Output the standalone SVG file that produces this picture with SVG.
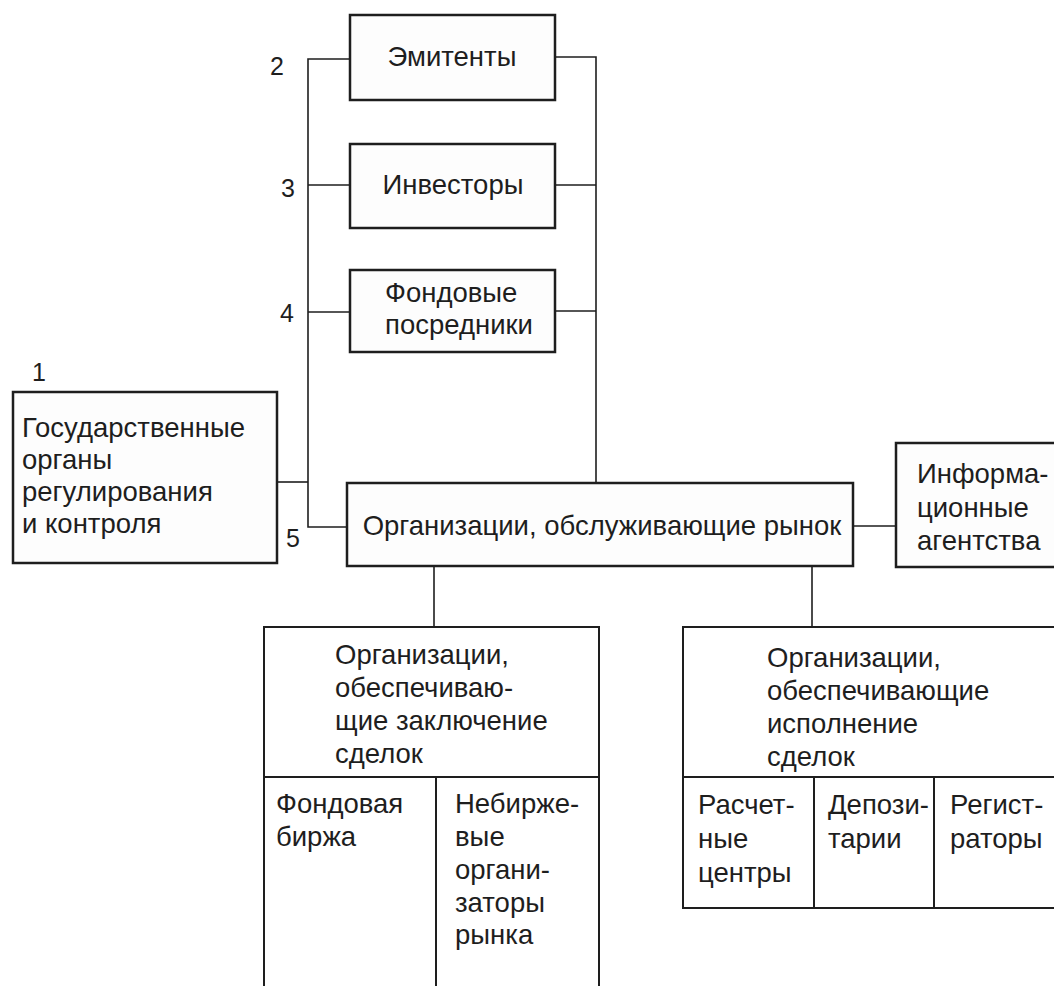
<svg xmlns="http://www.w3.org/2000/svg" width="1054" height="986" viewBox="0 0 1054 986">
<style>
.box{fill:#fdfdfd;stroke:#1e1e1e;stroke-width:2.5}
.cell{fill:none;stroke:#1e1e1e;stroke-width:2}
.ln{fill:none;stroke:#1e1e1e;stroke-width:1.6}
text{font-family:"Liberation Sans","DejaVu Sans",sans-serif;font-size:27.5px;fill:#1e1e1e}
.num{font-size:25px}
</style>
<rect width="1054" height="986" fill="#ffffff"/>
<g id="connectors">
<polyline class="ln" points="350,59 308,59 308,527 347,527"/>
<line class="ln" x1="308" y1="185" x2="350" y2="185"/>
<line class="ln" x1="308" y1="312" x2="350" y2="312"/>
<line class="ln" x1="277" y1="482" x2="308" y2="482"/>
<polyline class="ln" points="555,57 596,57 596,483"/>
<line class="ln" x1="555" y1="185" x2="596" y2="185"/>
<line class="ln" x1="555" y1="311" x2="596" y2="311"/>
<line class="ln" x1="853" y1="526" x2="896" y2="526"/>
<line class="ln" x1="434" y1="566" x2="434" y2="627"/>
<line class="ln" x1="812" y1="566" x2="812" y2="627"/>
</g>
<g id="n2">
<rect class="box" x="350" y="15" width="205" height="85"/>
<text x="452" y="66" text-anchor="middle">Эмитенты</text>
<text class="num" x="270" y="75">2</text>
</g>
<g id="n3">
<rect class="box" x="350" y="144" width="205" height="84"/>
<text x="453" y="194" text-anchor="middle">Инвесторы</text>
<text class="num" x="281" y="197">3</text>
</g>
<g id="n4">
<rect class="box" x="350" y="270" width="205" height="82"/>
<text x="385" y="302">Фондовые</text>
<text x="385" y="334">посредники</text>
<text class="num" x="280" y="322">4</text>
</g>
<g id="n1">
<rect class="box" x="13" y="392" width="264" height="171"/>
<text class="num" x="32" y="381">1</text>
<text x="22" y="437">Государственные</text>
<text x="22" y="469">органы</text>
<text x="22" y="501">регулирования</text>
<text x="22" y="533">и контроля</text>
</g>
<g id="n5">
<rect class="box" x="347" y="483" width="506" height="83"/>
<text x="602" y="535" text-anchor="middle">Организации, обслуживающие рынок</text>
<text class="num" x="286" y="547">5</text>
</g>
<g id="n6">
<rect class="box" x="896" y="443" width="170" height="124"/>
<text x="917" y="483">Информа-</text>
<text x="917" y="517">ционные</text>
<text x="917" y="550">агентства</text>
</g>
<g id="n7">
<rect class="cell" x="264" y="627" width="335" height="370"/>
<line class="cell" x1="264" y1="777" x2="599" y2="777"/>
<line class="cell" x1="436" y1="777" x2="436" y2="990"/>
<text x="335" y="664">Организации,</text>
<text x="335" y="697">обеспечиваю-</text>
<text x="335" y="730">щие заключение</text>
<text x="335" y="763">сделок</text>
<text x="276" y="813">Фондовая</text>
<text x="276" y="846">биржа</text>
<text x="455" y="813">Небирже-</text>
<text x="455" y="846">вые</text>
<text x="455" y="879">органи-</text>
<text x="455" y="912">заторы</text>
<text x="455" y="944">рынка</text>
</g>
<g id="n8">
<rect class="cell" x="683" y="627" width="390" height="281"/>
<line class="cell" x1="683" y1="777" x2="1073" y2="777"/>
<line class="cell" x1="814" y1="777" x2="814" y2="908"/>
<line class="cell" x1="934" y1="777" x2="934" y2="908"/>
<text x="767" y="667">Организации,</text>
<text x="767" y="700">обеспечивающие</text>
<text x="767" y="733">исполнение</text>
<text x="767" y="766">сделок</text>
<text x="698" y="814">Расчет-</text>
<text x="698" y="848">ные</text>
<text x="698" y="882">центры</text>
<text x="828" y="814">Депози-</text>
<text x="828" y="848">тарии</text>
<text x="950" y="814">Регист-</text>
<text x="950" y="848">раторы</text>
</g>
</svg>
